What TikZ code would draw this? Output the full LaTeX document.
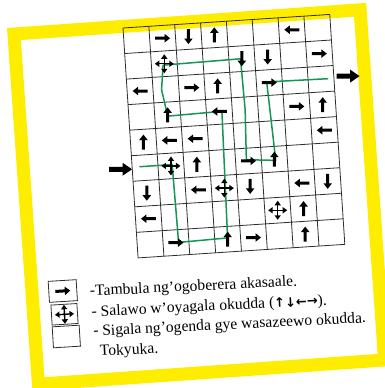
\documentclass[tikz,border=0pt]{standalone}
\usepackage{fontspec}
\setmainfont{Liberation Serif}
\newfontfamily\arrowfont{DejaVu Sans}
\usetikzlibrary{arrows.meta}
\definecolor{frameyellow}{RGB}{255,237,0}
\definecolor{pathgreen}{RGB}{22,150,85}
\definecolor{gridgray}{RGB}{45,45,45}
\tikzset{
  gridline/.style={draw=gridgray, line width=0.8pt},
  greenpath/.style={draw=pathgreen, line width=1.5pt, line cap=round, line join=round},
  legendbox/.style={draw=gridgray, line width=0.8pt, rotate=3.5, inner sep=0pt},
  legendtext/.style={anchor=base west, inner sep=0pt, rotate=2.8, font=\fontsize{15.6}{18}\selectfont},
  sarrow/.pic={\fill[black] (-7.5pt,-1.5pt) -- (2pt,-1.5pt) -- (2pt,-4.3pt) -- (7.5pt,0pt) -- (2pt,4.3pt) -- (2pt,1.5pt) -- (-7.5pt,1.5pt) -- cycle;},
  barrow/.pic={\fill[black] (-11.5pt,-2.5pt) -- (2pt,-2.5pt) -- (2pt,-6.5pt) -- (11.5pt,0pt) -- (2pt,6.5pt) -- (2pt,2.5pt) -- (-11.5pt,2.5pt) -- cycle;},
  crossarrow/.pic={
    \draw[black, line width=1.4pt] (-6pt,0pt) -- (6pt,0pt) (0pt,-6pt) -- (0pt,6pt);
    \foreach \ang in {0,90,180,270}{
      \fill[black, rotate=\ang] (9.5pt,0pt) -- (5pt,3.2pt) -- (5pt,-3.2pt) -- cycle;
    }
  }
}
\begin{document}
\begin{tikzpicture}[x=1pt, y=-1pt]
\useasboundingbox (0,0) rectangle (385,388);
\clip (0,0) rectangle (385,388);
\fill[white] (0,0) rectangle (385,388);
% yellow frame
\begin{scope}[shift={(7,28)}, rotate=4]
  \draw[frameyellow, line width=13pt] (6.5,6.5) rectangle (353.5,357.5);
\end{scope}
% grid
\begin{scope}[shift={(123,28)}, rotate=3.75, x=25.9pt, y=-25.6pt]
  \foreach \i in {0,...,8} \draw[gridline] (\i,0) -- (\i,9);
  \foreach \j in {0,...,9} \draw[gridline] (0,\j) -- (8,\j);
  \draw[greenpath] (0.3,5.45) -- (1.55,5.45) -- (1.6,8.5) -- (3.5,8.45) -- (3.6,3.5)
     -- (1.5,3.55) -- (1.33,2.5) -- (1.45,1.55) -- (4.45,1.5) -- (4.5,3.5) -- (4.42,5.45)
     -- (5.55,5.55) -- (5.5,4.5) -- (5.4,2.47) -- (7.76,2.5);
  \foreach \c/\r/\d in {2/1/0, 3/1/270, 4/1/90, 7/1/180,
                        5/2/270, 6/2/270, 8/2/0,
                        1/3/180, 3/3/0, 4/3/90, 6/3/0,
                        2/4/90, 4/4/180, 7/4/0, 8/4/90,
                        1/5/90, 2/5/180, 3/5/180, 8/5/180,
                        3/6/90, 5/6/0, 6/6/90,
                        1/7/270, 3/7/180, 5/7/270, 7/7/180, 8/7/270,
                        1/8/180, 7/8/90,
                        2/9/0, 4/9/90, 5/9/0, 7/9/90}
    \pic[rotate=\d] at (\c-0.5,\r-0.5) {sarrow};
  \foreach \c/\r in {2/2, 2/6, 4/7, 6/8}
    \pic at (\c-0.5,\r-0.5) {crossarrow};
  \pic at (-0.45,5.5) {barrow};
  \pic at (8.55,2.45) {barrow};
\end{scope}
% legend
\node[legendbox, minimum width=28pt, minimum height=21pt] (box1) at (62.8,291) {};
\node[legendbox, minimum width=26pt, minimum height=20pt] (box2) at (64.5,314.3) {};
\node[legendbox, minimum width=27pt, minimum height=21pt] (box3) at (66.3,336.5) {};
\pic[rotate=3.5] at (box1.center) {sarrow};
\pic[rotate=3.5] at (box2.center) {crossarrow};
\node[legendtext] (t1) at (90,296) {-Tambula ng’ogoberera akasaale.};
\node[legendtext] (t2) at (91.7,316.5) {- Salawo w’oyagala okudda ({\arrowfont\bfseries\fontsize{13}{15}\selectfont ↑↓←→}).};
\node[legendtext] (t3) at (93.3,336) {- Sigala ng’ogenda gye wasazeewo okudda.};
\node[legendtext] (t4) at (100,356) {Tokyuka.};
\end{tikzpicture}
\end{document}
